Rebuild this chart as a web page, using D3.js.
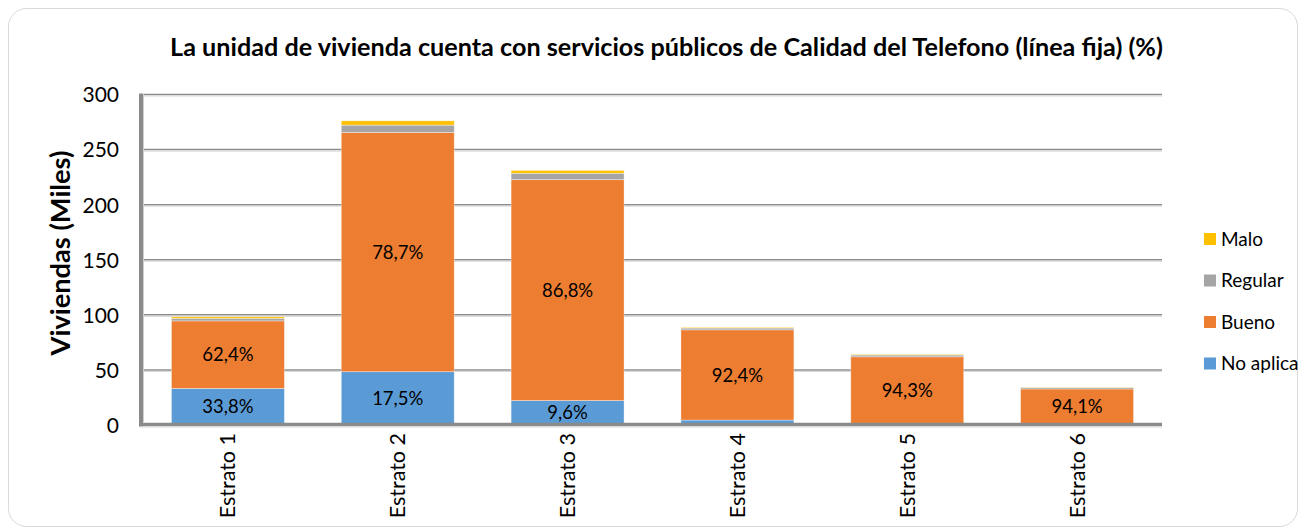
<!DOCTYPE html>
<html>
<head>
<meta charset="utf-8">
<script src="https://cdn.jsdelivr.net/npm/d3@7/dist/d3.min.js"></script>
<style>
  html, body { margin: 0; padding: 0; background: #ffffff; }
  svg { display: block; font-family: Lato, "Open Sans", sans-serif; }
</style>
</head>
<body>
<svg id="chart" width="1306" height="530"></svg>
<script>
const categories = ["Estrato 1", "Estrato 2", "Estrato 3", "Estrato 4", "Estrato 5", "Estrato 6"];
const noAplica = [33.2, 48.4, 22.2, 4.5, 1.5, 0.5];
const bueno = [61.3, 217.2, 200.5, 81.9, 60.4, 32.2];
const regular = [2.3, 6.6, 5.8, 1.6, 1.6, 1.3];
const malo = [1.4, 3.9, 2.6, 0.6, 0.6, 0.2];
const noAplicaLabels = ["33,8%", "17,5%", "9,6%", "", "", ""];
const buenoLabels = ["62,4%", "78,7%", "86,8%", "92,4%", "94,3%", "94,1%"];
const yTicks = [0, 50, 100, 150, 200, 250, 300];
const seriesNames = ["No aplica", "Bueno", "Regular", "Malo"];
const seriesColors = ["#5B9BD5", "#ED7D31", "#A5A5A5", "#FFC000"];
const title = "La unidad de vivienda cuenta con servicios públicos de Calidad del Telefono (línea fija) (%)";
const yTitle = "Viviendas (Miles)";

const svg = d3.select("#chart");

// outer rounded border
svg.append("rect").attr("x", 8.5).attr("y", 8.5).attr("width", 1289).attr("height", 518)
  .attr("rx", 18).attr("fill", "#fff").attr("stroke", "#d9d9d9").attr("stroke-width", 1);

const x = d3.scaleBand().domain(categories).range([143, 1162]).paddingInner(0.335).paddingOuter(0.1675);
const y = d3.scaleLinear().domain([0, 300]).range([425, 94.5]);

// gridlines
const grid = svg.append("g");
grid.selectAll("line.g").data(yTicks.filter(d => d > 0)).join("line")
  .attr("x1", 143).attr("x2", 1162).attr("y1", d => y(d)).attr("y2", d => y(d))
  .attr("stroke", "#8c8c8c").attr("stroke-width", 1.5);
grid.selectAll("line.s").data(yTicks.filter(d => d > 0)).join("line")
  .attr("x1", 143).attr("x2", 1162).attr("y1", d => y(d) + 1.5).attr("y2", d => y(d) + 1.5)
  .attr("stroke", "#d6d6d6").attr("stroke-width", 1);

// stacked data
const rows = categories.map((c, i) => ({cat: c, "No aplica": noAplica[i], "Bueno": bueno[i], "Regular": regular[i], "Malo": malo[i]}));
const stack = d3.stack().keys(seriesNames)(rows);
const color = d3.scaleOrdinal().domain(seriesNames).range(seriesColors);

svg.append("g").selectAll("g").data(stack).join("g")
  .attr("fill", d => color(d.key))
  .selectAll("rect").data(d => d).join("rect")
  .attr("x", d => x(d.data.cat)).attr("width", x.bandwidth())
  .attr("y", d => y(d[1])).attr("height", d => y(d[0]) - y(d[1]))
  .attr("stroke", "rgba(255,255,255,0.45)").attr("stroke-width", 0.8);

// value labels
const labelG = svg.append("g").attr("font-size", 18.5).attr("fill", "#000").attr("text-anchor", "middle");
const labelSets = [[0, noAplicaLabels], [1, buenoLabels]];
labelSets.forEach(([si, labels]) => {
  stack[si].forEach((d, i) => {
    if (!labels[i]) return;
    labelG.append("text")
      .attr("x", x(d.data.cat) + x.bandwidth() / 2)
      .attr("y", (y(d[0]) + y(d[1])) / 2)
      .attr("dy", "0.36em")
      .text(labels[i]);
  });
});

// axes lines
svg.append("line").attr("x1", 141).attr("x2", 141).attr("y1", 93.5).attr("y2", 426.5)
  .attr("stroke", "#8a8a8a").attr("stroke-width", 4);
svg.append("line").attr("x1", 139).attr("x2", 1162).attr("y1", 424.5).attr("y2", 424.5)
  .attr("stroke", "#8a8a8a").attr("stroke-width", 3.5);
svg.append("line").attr("x1", 143.5).attr("x2", 143.5).attr("y1", 94).attr("y2", 422)
  .attr("stroke", "#d0d0d0").attr("stroke-width", 1);
svg.append("line").attr("x1", 140).attr("x2", 1162).attr("y1", 427).attr("y2", 427)
  .attr("stroke", "#d8d8d8").attr("stroke-width", 1);

// y ticks
const yAxis = d3.axisLeft(y).tickValues(yTicks).tickSize(0).tickPadding(0);
const ya = svg.append("g").attr("transform", "translate(119,0)").call(yAxis);
ya.select(".domain").remove();
ya.selectAll("text").attr("font-size", 21).attr("font-family", "Lato, 'Open Sans', sans-serif").attr("fill", "#000").attr("dy", "0.35em");

// x labels
const xAxis = d3.axisBottom(x).tickSize(0).tickPadding(0);
const xa = svg.append("g").attr("transform", "translate(0,433)").call(xAxis);
xa.select(".domain").remove();
xa.selectAll("text")
  .attr("font-size", 21.5).attr("font-family", "Lato, 'Open Sans', sans-serif").attr("fill", "#000")
  .attr("text-anchor", "end").attr("transform", "rotate(-90)")
  .attr("x", 0).attr("y", 0).attr("dy", "0.35em");

// title
function fit(sel, target) {
  const n = sel.node();
  const w = n.getComputedTextLength();
  const fs = parseFloat(sel.attr("font-size"));
  sel.attr("font-size", fs * target / w);
}
const t = svg.append("text").attr("x", 666.5).attr("y", 47).attr("dy", "0.35em")
  .attr("text-anchor", "middle").attr("font-weight", "bold").attr("font-size", 20).text(title);
fit(t, 993);

// y title
const yt = svg.append("text").attr("transform", "translate(60,253) rotate(-90)")
  .attr("text-anchor", "middle").attr("dy", "0.35em").attr("font-weight", "bold").attr("font-size", 20).text(yTitle);
fit(yt, 205);

// legend
const legendOrder = ["Malo", "Regular", "Bueno", "No aplica"];
const lg = svg.append("g");
legendOrder.forEach((name, i) => {
  const cy = 239 + i * 41.5;
  lg.append("rect").attr("x", 1204).attr("y", cy - 6).attr("width", 12).attr("height", 12).attr("fill", color(name));
  lg.append("text").attr("x", 1221).attr("y", cy).attr("dy", "0.35em").attr("font-size", 19).attr("fill", "#000").text(name);
});
</script>
</body>
</html>
